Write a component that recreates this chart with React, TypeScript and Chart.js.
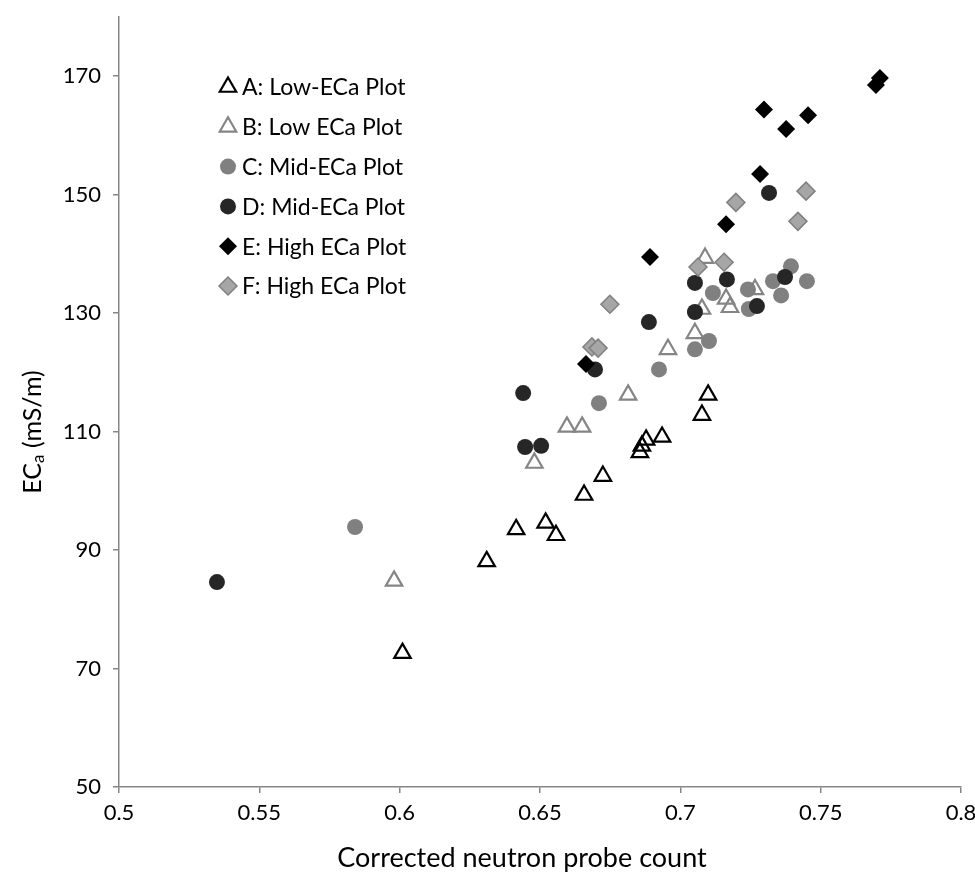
import React, { useEffect, useRef } from 'react';
import { Chart, registerables } from 'chart.js';

Chart.register(...registerables);

// ---- Axis ticks ----
const xTicks = [0.5, 0.55, 0.6, 0.65, 0.7, 0.75, 0.8];
const xTickLabels = ['0.5', '0.55', '0.6', '0.65', '0.7', '0.75', '0.8'];
const yTicks = [50, 70, 90, 110, 130, 150, 170];
const yTickLabels = ['50', '70', '90', '110', '130', '150', '170'];

// ---- Titles ----
const xTitle = 'Corrected neutron probe count';
const yTitleMain = 'EC';
const yTitleSub = 'a';
const yTitleUnit = ' (mS/m)';

// ---- Series names ----
const seriesNames = [
  'A: Low-ECa Plot',
  'B: Low ECa Plot',
  'C: Mid-ECa Plot',
  'D: Mid-ECa Plot',
  'E: High ECa Plot',
  'F: High ECa Plot',
];

// ---- Data ----
const aX = [0.601, 0.631, 0.6415, 0.652, 0.6557, 0.6657, 0.6724, 0.6856, 0.6863, 0.6878, 0.6935, 0.7077, 0.7099];
const aY = [72.6, 88.1, 93.5, 94.6, 92.5, 99.3, 102.5, 106.5, 107.6, 108.6, 109.1, 112.8, 116.2];

const bX = [0.598, 0.648, 0.6596, 0.665, 0.6814, 0.6956, 0.7052, 0.7077, 0.7088, 0.7163, 0.7177, 0.7266];
const bY = [84.8, 104.7, 110.8, 110.8, 116.2, 123.9, 126.6, 130.7, 139.3, 132.4, 131.0, 134.0];

const cX = [0.5841, 0.671, 0.6924, 0.7052, 0.7102, 0.7116, 0.7241, 0.7244, 0.733, 0.7359, 0.7394, 0.7451];
const cY = [93.9, 114.8, 120.5, 123.9, 125.3, 133.4, 134.0, 130.7, 135.4, 133.0, 137.9, 135.4];

const dX = [0.5349, 0.644, 0.6447, 0.6504, 0.6696, 0.6888, 0.7052, 0.7052, 0.7166, 0.7273, 0.7316, 0.7373];
const dY = [84.6, 116.5, 107.4, 107.6, 120.5, 128.5, 135.1, 130.2, 135.7, 131.2, 150.3, 136.1];

const eX = [0.6664, 0.6892, 0.7163, 0.7284, 0.7298, 0.7377, 0.7455, 0.7697, 0.7711];
const eY = [121.4, 139.5, 145.0, 153.5, 164.4, 161.1, 163.4, 168.5, 169.7];

const fX = [0.6685, 0.6707, 0.6749, 0.7063, 0.7156, 0.7198, 0.7419, 0.7448];
const fY = [124.3, 124.1, 131.5, 137.8, 138.6, 148.7, 145.5, 150.6];

const toPoints = (xs: number[], ys: number[]) => xs.map((x, i) => ({ x, y: ys[i] }));

const LABEL_FONT = 'Lato, "Open Sans", sans-serif';

function drawMarker(
  ctx: CanvasRenderingContext2D,
  style: string,
  x: number,
  y: number,
  r: number,
  fill: string,
  stroke: string,
  lw: number
) {
  ctx.beginPath();
  if (style === 'triangle') {
    ctx.moveTo(x, y - r);
    ctx.lineTo(x + Math.cos(Math.PI / 6) * r, y + r / 2);
    ctx.lineTo(x - Math.cos(Math.PI / 6) * r, y + r / 2);
    ctx.closePath();
  } else if (style === 'rectRot') {
    ctx.moveTo(x, y - r);
    ctx.lineTo(x + r, y);
    ctx.lineTo(x, y + r);
    ctx.lineTo(x - r, y);
    ctx.closePath();
  } else {
    ctx.arc(x, y, r, 0, Math.PI * 2);
  }
  ctx.fillStyle = fill;
  ctx.fill();
  if (lw > 0) {
    ctx.lineWidth = lw;
    ctx.strokeStyle = stroke;
    ctx.stroke();
  }
}

const legendPlugin = {
  id: 'insideLegend',
  afterDatasetsDraw(chart: any) {
    const { ctx, chartArea } = chart;
    ctx.save();
    chart.data.datasets.forEach((ds: any, i: number) => {
      const cx = chartArea.left + 109;
      const cy = chartArea.top + 70 + i * 39.8;
      drawMarker(ctx, ds.pointStyle, cx, cy, ds.pointRadius, ds.backgroundColor, ds.borderColor, ds.borderWidth);
      ctx.fillStyle = '#000';
      ctx.font = `23px ${LABEL_FONT}`;
      ctx.textAlign = 'left';
      ctx.textBaseline = 'middle';
      ctx.fillText(ds.label, cx + 14, cy + 1);
    });
    ctx.restore();
  },
};

const titlesPlugin = {
  id: 'axisTitles',
  afterDraw(chart: any) {
    const { ctx, chartArea } = chart;
    ctx.save();
    // x title
    ctx.fillStyle = '#000';
    ctx.textBaseline = 'middle';
    ctx.textAlign = 'center';
    ctx.font = `27px ${LABEL_FONT}`;
    ctx.fillText(xTitle, (chartArea.left + chartArea.right) / 2 - 18, chartArea.bottom + 71);
    // y title
    ctx.translate(33, 432);
    ctx.rotate(-Math.PI / 2);
    const big = `25px ${LABEL_FONT}`;
    const small = `17px ${LABEL_FONT}`;
    ctx.font = big;
    const w1 = ctx.measureText(yTitleMain).width;
    const w3 = ctx.measureText(yTitleUnit).width;
    ctx.font = small;
    const w2 = ctx.measureText(yTitleSub).width;
    const total = w1 + w2 + w3;
    let x = -total / 2;
    ctx.textAlign = 'left';
    ctx.font = big;
    ctx.fillText(yTitleMain, x, 0);
    x += w1;
    ctx.font = small;
    ctx.fillText(yTitleSub, x, 6);
    x += w2;
    ctx.font = big;
    ctx.fillText(yTitleUnit, x, 0);
    ctx.restore();
  },
};

export default function App() {
  const ref = useRef<HTMLCanvasElement | null>(null);

  useEffect(() => {
    if (!ref.current) return;
    const axisColor = '#868686';
    const chart = new Chart(ref.current, {
      type: 'scatter',
      data: {
        datasets: [
          {
            label: seriesNames[0],
            data: toPoints(aX, aY),
            pointStyle: 'triangle',
            pointRadius: 9.5,
            backgroundColor: 'rgba(255,255,255,0)',
            borderColor: '#000000',
            borderWidth: 2.2,
            order: 6,
          },
          {
            label: seriesNames[1],
            data: toPoints(bX, bY),
            pointStyle: 'triangle',
            pointRadius: 9.5,
            backgroundColor: 'rgba(255,255,255,0)',
            borderColor: '#858585',
            borderWidth: 2.2,
            order: 5,
          },
          {
            label: seriesNames[2],
            data: toPoints(cX, cY),
            pointStyle: 'circle',
            pointRadius: 8,
            backgroundColor: '#808080',
            borderColor: '#808080',
            borderWidth: 0,
            order: 4,
          },
          {
            label: seriesNames[3],
            data: toPoints(dX, dY),
            pointStyle: 'circle',
            pointRadius: 8,
            backgroundColor: '#262626',
            borderColor: '#262626',
            borderWidth: 0,
            order: 3,
          },
          {
            label: seriesNames[4],
            data: toPoints(eX, eY),
            pointStyle: 'rectRot',
            pointRadius: 9,
            backgroundColor: '#000000',
            borderColor: '#000000',
            borderWidth: 0,
            order: 2,
          },
          {
            label: seriesNames[5],
            data: toPoints(fX, fY),
            pointStyle: 'rectRot',
            pointRadius: 9,
            backgroundColor: '#a6a6a6',
            borderColor: '#808080',
            borderWidth: 1.5,
            order: 1,
          },
        ],
      },
      options: {
        responsive: false,
        animation: false,
        layout: { padding: { left: 0, top: 17, right: 14, bottom: 0 } },
        plugins: {
          legend: { display: false },
          tooltip: { enabled: false },
        },
        scales: {
          x: {
            type: 'linear',
            min: 0.5,
            max: 0.8,
            afterBuildTicks: (scale: any) => {
              scale.ticks = xTicks.map((v) => ({ value: v }));
            },
            afterFit: (scale: any) => {
              scale.height = 92;
              scale.paddingLeft = 0;
              scale.paddingRight = 0;
            },
            ticks: {
              callback: (_v: any, i: number) => xTickLabels[i],
              color: '#000',
              font: { family: LABEL_FONT, size: 22 },
              padding: 7,
              maxRotation: 0,
            },
            grid: {
              display: true,
              drawOnChartArea: false,
              drawTicks: true,
              tickLength: 6,
              color: axisColor,
              lineWidth: 1.5,
            },
            border: { display: true, color: axisColor, width: 1.5 },
            title: { display: false },
          },
          y: {
            type: 'linear',
            min: 50,
            max: 180,
            afterBuildTicks: (scale: any) => {
              scale.ticks = yTicks.map((v) => ({ value: v }));
            },
            afterFit: (scale: any) => {
              scale.width = 119;
              scale.paddingTop = 0;
              scale.paddingBottom = 0;
            },
            ticks: {
              callback: (_v: any, i: number) => yTickLabels[i],
              color: '#000',
              font: { family: LABEL_FONT, size: 22 },
              padding: 12,
            },
            grid: {
              display: true,
              drawOnChartArea: false,
              drawTicks: true,
              tickLength: 6,
              color: axisColor,
              lineWidth: 1.5,
            },
            border: { display: true, color: axisColor, width: 1.5 },
            title: { display: false },
          },
        },
      },
      plugins: [legendPlugin, titlesPlugin],
    } as any);
    return () => chart.destroy();
  }, []);

  return (
    <div style={{ position: 'absolute', left: 0, top: 0, width: 975, height: 879, background: '#fff' }}>
      <canvas ref={ref} width={975} height={879} style={{ display: 'block' }} />
    </div>
  );
}
